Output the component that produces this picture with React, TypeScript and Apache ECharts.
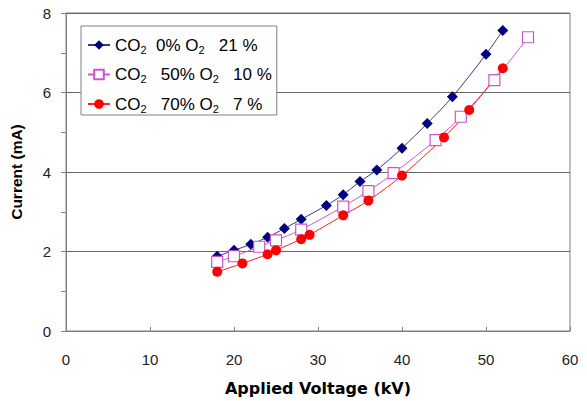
import React, { useEffect, useRef } from "react";
import * as echarts from "echarts";

const xTicks = [0, 10, 20, 30, 40, 50, 60];
const yTicks = [0, 2, 4, 6, 8];

const s1X = [18, 20, 22, 24, 26, 28, 31, 33, 35, 37, 40, 43, 46, 50, 52];
const s1Y = [1.88, 2.03, 2.18, 2.36, 2.58, 2.81, 3.16, 3.43, 3.76, 4.05, 4.6, 5.22, 5.89, 6.96, 7.56];

const s2X = [18, 20, 23, 25, 28, 33, 36, 39, 44, 47, 51, 55];
const s2Y = [1.74, 1.88, 2.12, 2.28, 2.55, 3.13, 3.52, 3.97, 4.8, 5.39, 6.31, 7.39];

const s3X = [18, 21, 24, 25, 28, 29, 33, 36, 40, 45, 48, 52];
const s3Y = [1.49, 1.7, 1.93, 2.03, 2.31, 2.42, 2.91, 3.28, 3.91, 4.87, 5.56, 6.61];

const legendNames = ["s0", "s1", "s2"];
const legendRich = [
  "{t|CO}{s|2}{t|  0% O}{s|2}{t|   21 %}",
  "{t|CO}{s|2}{t|   50% O}{s|2}{t|   10 %}",
  "{t|CO}{s|2}{t|   70% O}{s|2}{t|   7 %}",
];

const zip = (xs: number[], ys: number[]) => xs.map((x, i) => [x, ys[i]]);

export default function App() {
  const ref = useRef<HTMLDivElement>(null);
  useEffect(() => {
    if (!ref.current) return;
    const chart = echarts.init(ref.current, undefined, { renderer: "svg" });
    const font = "'Liberation Sans', Arial, sans-serif";
    chart.setOption({
      animation: false,
      backgroundColor: "#ffffff",
      textStyle: { fontFamily: font },
      grid: {
        left: 62,
        right: 17,
        top: 13,
        bottom: 68,
        show: true,
        borderColor: "#808080",
        borderWidth: 1,
      },
      legend: {
        orient: "vertical",
        left: 81,
        top: 26,
        padding: [9, 5, 1, 6],
        itemGap: 9.5,
        itemWidth: 22,
        itemHeight: 12,
        backgroundColor: "#ffffff",
        borderColor: "#808080",
        borderWidth: 1,
        data: legendNames,
        formatter: (name: string) => legendRich[legendNames.indexOf(name)],
        textStyle: {
          rich: {
            t: { fontSize: 17, lineHeight: 18, fontFamily: font, color: "#000" },
            s: { fontSize: 11, lineHeight: 18, fontFamily: font, color: "#000", padding: [9, 0, 0, 0] },
          },
        },
      },
      xAxis: {
        type: "value",
        min: 0,
        max: 60,
        interval: 10,
        name: "Applied Voltage (kV)",
        nameLocation: "middle",
        nameGap: 49,
        nameTextStyle: { fontSize: 16, fontWeight: "bold", color: "#000", fontFamily: "'DejaVu Sans', sans-serif" },
        axisLine: { show: true, lineStyle: { color: "#808080" } },
        axisTick: { show: true, inside: true, length: 4, lineStyle: { color: "#808080" } },
        axisLabel: { fontSize: 15, color: "#222", margin: 21, fontFamily: font },
        splitLine: { show: false },
      },
      yAxis: {
        type: "value",
        min: 0,
        max: 8,
        interval: 2,
        name: "Current (mA)",
        nameLocation: "middle",
        nameGap: 42,
        nameTextStyle: { fontSize: 15.5, fontWeight: "bold", color: "#000", fontFamily: font },
        axisLine: { show: true, lineStyle: { color: "#808080" } },
        axisTick: { show: true, inside: false, length: 5, lineStyle: { color: "#808080" } },
        minorTick: { show: true, splitNumber: 2, length: 5, lineStyle: { color: "#808080" } },
        axisLabel: { fontSize: 15, color: "#222", margin: 15, fontFamily: font },
        splitLine: { show: true, lineStyle: { color: "#666666", width: 1 } },
      },
      series: [
        {
          name: "s0",
          type: "line",
          data: zip(s1X, s1Y),
          smooth: 0.3,
          symbol: "diamond",
          symbolSize: 11,
          lineStyle: { color: "#3a3a80", width: 1 },
          itemStyle: { color: "#000080" },
        },
        {
          name: "s1",
          type: "line",
          data: zip(s2X, s2Y),
          smooth: 0.3,
          symbol: "rect",
          symbolSize: 11,
          lineStyle: { color: "#cc55cc", width: 1 },
          itemStyle: { color: "#ffffff", borderColor: "#cc55cc", borderWidth: 1.2 },
        },
        {
          name: "s2",
          type: "line",
          data: zip(s3X, s3Y),
          smooth: 0.3,
          symbol: "circle",
          symbolSize: 10,
          lineStyle: { color: "#ff2020", width: 1 },
          itemStyle: { color: "#ff0000" },
        },
      ],
    });
    return () => chart.dispose();
  }, []);
  return (
    <div
      ref={ref}
      style={{ position: "absolute", left: 0, top: 0, width: 587, height: 401 }}
    />
  );
}
